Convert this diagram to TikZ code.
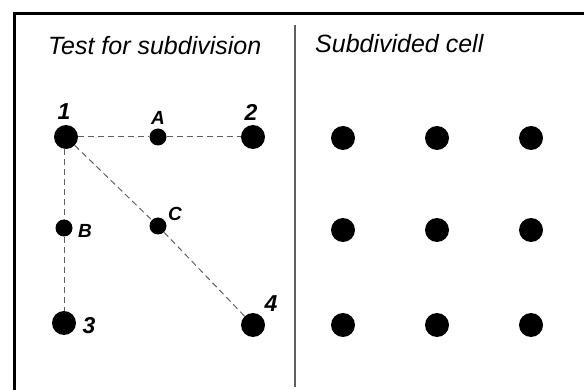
\documentclass[tikz,border=0pt]{standalone}
\usepackage{fontspec}
\setmainfont{Liberation Sans}
\usepackage{xcolor}
\definecolor{linegray}{RGB}{95,95,95}
\usetikzlibrary{positioning}

\begin{document}
\begin{tikzpicture}[x=1pt, y=-1pt,
    bigdot/.style={circle, fill=black, inner sep=0pt, minimum size=24pt},
    smalldot/.style={circle, fill=black, inner sep=0pt, minimum size=17pt},
    testline/.style={linegray, dash pattern=on 6pt off 4pt, line width=1pt},
    ptlabel/.style={inner sep=0pt, font=\fontsize{23}{23}\selectfont\bfseries\itshape},
    midlabel/.style={inner sep=0pt, font=\fontsize{19}{19}\selectfont\bfseries\itshape},
    heading/.style={inner sep=0pt, anchor=base west, font=\fontsize{25}{30}\selectfont\itshape}]
    \useasboundingbox (0,0) rectangle (584,390);

    % frame and divider
    \draw[line width=3pt] (14,390) -- (14,14) -- (584,14);
    \draw[linegray, line width=1.2pt] (295,25) -- (295,387);

    \begin{scope}
        \node[heading] (testtitle) at (48,55) {Test for subdivision};
        \node[bigdot] (p1) at (66,137) {};
        \node[bigdot] (p2) at (253,137) {};
        \node[bigdot] (p3) at (64,323) {};
        \node[bigdot] (p4) at (253,325) {};
        \node[smalldot] (pA) at (158,137) {};
        \node[smalldot] (pB) at (64,228) {};
        \node[smalldot] (pC) at (158,226) {};
        \draw[testline] (p1) -- (pA) -- (p2);
        \draw[testline] (p1.south -| pB) -- (pB) -- (p3);
        \draw[testline] (p1) -- (pC) -- (p4);
        \node[ptlabel] (l1) at (64,112) {1};
        \node[ptlabel] (l2) at (251,112) {2};
        \node[ptlabel] (l3) at (89,326) {3};
        \node[ptlabel] (l4) at (271,304) {4};
        \node[midlabel] (lA) at (158,118) {A};
        \node[midlabel] (lB) at (85,231) {B};
        \node[midlabel] (lC) at (175,214) {C};
    \end{scope}

    \begin{scope}
        \node[heading] (celltitle) at (315,53) {Subdivided cell};
        \foreach \r/\y in {1/138,2/230,3/325} {
            \foreach \c/\x in {1/343,2/437,3/531} {
                \node[bigdot] (g\r\c) at (\x,\y) {};
            }
        }
    \end{scope}
\end{tikzpicture}
\end{document}
